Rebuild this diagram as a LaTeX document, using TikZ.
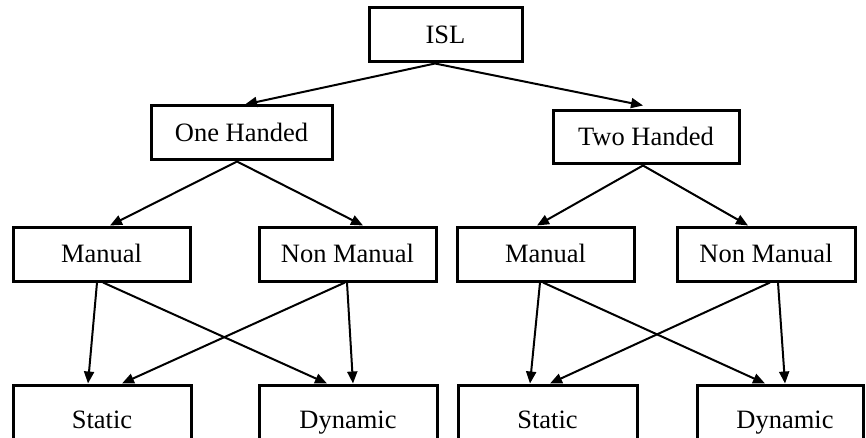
\documentclass[tikz,border=0pt]{standalone}
\usepackage{fontspec}
\setmainfont{Liberation Serif}
\usetikzlibrary{arrows.meta,calc}

\tikzset{
  box/.style={draw=black, line width=3pt, fill=white, rectangle,
    minimum height=54pt, inner sep=0pt,
    font=\fontsize{26.5}{30}\selectfont,
    text height=23pt, text depth=6pt},
  lowbox/.style={box, text height=36pt, text depth=3pt},
  link/.style={draw=black, line width=2pt,
    -{Triangle[length=12pt,width=10pt]}}
}

\begin{document}
\begin{tikzpicture}[x=1pt, y=-1pt]
\useasboundingbox (0,0) rectangle (866,438);
\clip (0,0) rectangle (866,438);

% top level
\node[box, minimum width=153pt] (isl) at (445.5,35) {ISL};

% hand count
\node[box, minimum width=181pt] (oh) at (241.5,133) {One Handed};
\node[box, minimum width=186pt, minimum height=53pt] (th) at (646,137.5) {Two Handed};

% manual / non manual
\node[box, minimum width=177pt] (m1)  at (101.5,254) {Manual};
\node[box, minimum width=177pt] (nm1) at (347.5,254) {Non Manual};
\node[box, minimum width=177pt] (m2)  at (545.5,254) {Manual};
\node[box, minimum width=178pt] (nm2) at (766,254) {Non Manual};

% static / dynamic
\node[lowbox, minimum width=178pt] (s1) at (102,412) {Static};
\node[lowbox, minimum width=178pt] (d1) at (348,412) {Dynamic};
\node[lowbox, minimum width=179pt] (s2) at (547.5,412) {Static};
\node[lowbox, minimum width=166pt] (d2) at (780,412) {\hspace{10pt}Dynamic};

% connectors
\draw[link] ($(isl.south)+(-10.5,0)$) -- ($(oh.north)+(3.5,0)$);
\draw[link] ($(isl.south)+(-10.5,0)$) -- ($(th.north)+(-3,-4)$);

\draw[link] ($(oh.south)+(-4.5,0)$) -- ($(m1.north)+(8.5,0)$);
\draw[link] ($(oh.south)+(-4.5,0)$) -- ($(nm1.north)+(15.5,0)$);
\draw[link] ($(th.south)+(-3,0)$) -- ($(m2.north)+(-8.5,0)$);
\draw[link] ($(th.south)+(-3,0)$) -- ($(nm2.north)+(-18,0)$);

\draw[link] ($(m1.south)+(-4.5,0)$) -- ($(s1.north)+(-14,0)$);
\draw[link] ($(m1.south)+(1.5,0)$) -- ($(d1.north)+(-21,0)$);
\draw[link] ($(nm1.south)+(-2.5,0)$) -- ($(s1.north)+(20,0)$);
\draw[link] ($(nm1.south)+(-0.5,0)$) -- ($(d1.north)+(5,0)$);

\draw[link] ($(m2.south)+(-5.5,0)$) -- ($(s2.north)+(-17.5,0)$);
\draw[link] ($(m2.south)+(-2.5,0)$) -- ($(d2.north)+(-15,0)$);
\draw[link] ($(nm2.south)+(4,0)$) -- ($(s2.north)+(2.5,0)$);
\draw[link] ($(nm2.south)+(12,0)$) -- ($(d2.north)+(5,0)$);
\end{tikzpicture}
\end{document}
